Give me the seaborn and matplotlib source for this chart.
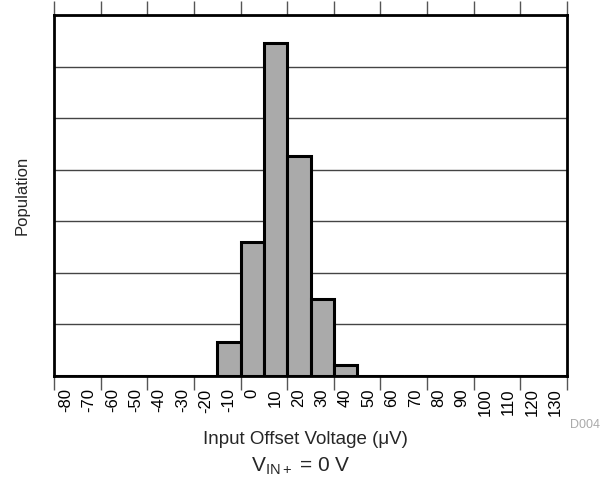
import matplotlib
matplotlib.use("Agg")
import matplotlib.pyplot as plt
import seaborn as sns
import pandas as pd
import numpy as np

# Data
bins = [-80, -70, -60, -50, -40, -30, -20, -10, 0, 10, 20, 30, 40,
        50, 60, 70, 80, 90, 100, 110, 120, 130]
population = [0, 0, 0, 0, 0, 0, 0, 0.66, 2.6, 6.46, 4.26, 1.50, 0.21,
              0, 0, 0, 0, 0, 0, 0, 0, 0]
bin_labels = [str(b) for b in bins]

sns.set_theme(style="white")
plt.rcParams['font.family'] = ['Liberation Sans', 'DejaVu Sans']
plt.rcParams['mathtext.fontset'] = 'custom'
plt.rcParams['mathtext.rm'] = 'Liberation Sans'
plt.rcParams['mathtext.it'] = 'Liberation Sans'

df = pd.DataFrame({"bin": bin_labels, "pop": population})

fig = plt.figure(figsize=(6.05, 4.8), dpi=100)
ax = fig.add_axes([54 / 605, 1 - 376 / 480, 513 / 605, 361 / 480])

sns.barplot(data=df, x="bin", y="pop", order=bin_labels, color="#aaaaaa",
            width=1.0, edgecolor="black", linewidth=2.2, saturation=1, ax=ax,
            zorder=3)

n = len(bins)
ax.set_xlim(-0.5, n - 0.5)
ax.set_ylim(0, 7)

# horizontal gridlines
ax.set_yticks(range(0, 8))
ax.set_yticklabels([])
ax.tick_params(axis='y', length=0)
ax.grid(axis='y', color='#444444', linewidth=1, zorder=0)
ax.set_axisbelow(True)

# x labels at bar centres, tick marks at every other bar edge
ax.set_xticks(range(n))
ax.set_xticklabels(bin_labels, rotation=90, fontsize=12)
ax.tick_params(axis='x', which='major', length=0, pad=9, colors='black')
edges = np.arange(-0.5, n, 2)
ax.set_xticks(edges, minor=True)
ax.tick_params(axis='x', which='minor', length=10, width=1, color='#555555',
               top=True, bottom=True, direction='out')

for s in ax.spines.values():
    s.set_visible(True)
    s.set_color('black')
    s.set_linewidth(2)

ax.set_xlabel("")
ax.set_ylabel("Population", fontsize=12, labelpad=14)

fig.text(305 / 605, 1 - 440 / 480, "Input Offset Voltage (\u03bcV)",
         ha='center', va='center', fontsize=13.5)
fig.text(301 / 605, 1 - 466 / 480, r"$\mathregular{V_{IN+}}$ = 0 V",
         ha='center', va='center', fontsize=15)
fig.text(600 / 605, 1 - 425 / 480, "D004", ha='right', va='center',
         fontsize=9, color='#aaaaaa')

fig.savefig("out.png", dpi=100)
